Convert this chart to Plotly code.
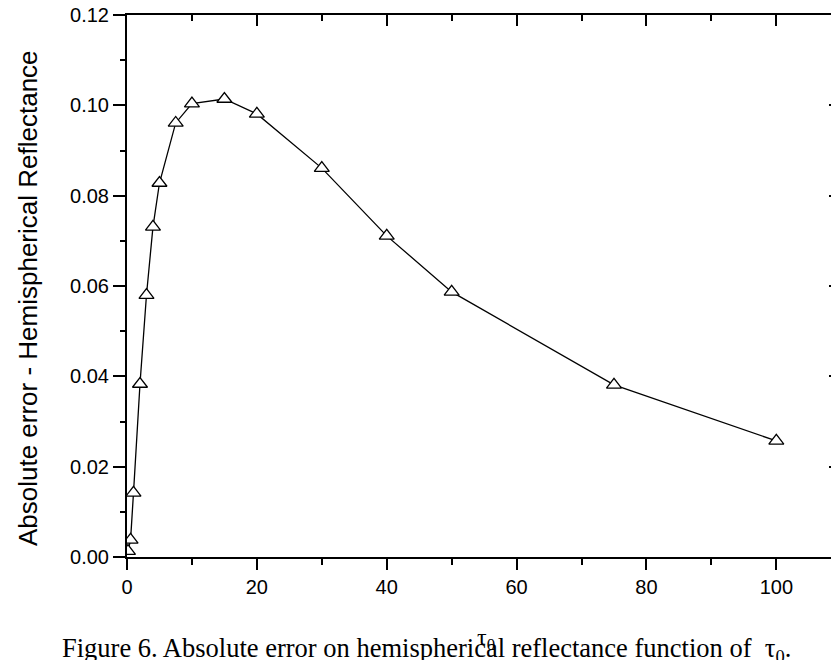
import plotly.graph_objects as go

tau0 = [0.15, 0.55, 1, 2, 3, 4, 5, 7.5, 10, 15, 20, 30, 40, 50, 75, 100]
abs_error = [0.0013, 0.0038, 0.0142, 0.0383, 0.0580, 0.0731, 0.0828, 0.0961,
             0.1004, 0.1014, 0.0981, 0.0861, 0.0711, 0.0587, 0.0381, 0.0257]

x_range = [0, 109.5]
y_range = [0, 0.12]
x_ticks = [0, 20, 40, 60, 80, 100]
y_ticks = [0.00, 0.02, 0.04, 0.06, 0.08, 0.10, 0.12]

fig = go.Figure()
fig.add_trace(go.Scatter(
    x=tau0, y=abs_error, mode="lines+markers",
    line=dict(color="black", width=1.3),
    marker=dict(symbol="triangle-up", size=13, color="white",
                line=dict(color="black", width=1.3)),
    showlegend=False, cliponaxis=True,
))
# invisible trace on mirrored axes
fig.add_trace(go.Scatter(x=tau0, y=abs_error, xaxis="x2", yaxis="y2",
                         mode="markers", marker=dict(opacity=0),
                         showlegend=False, hoverinfo="skip"))

tickfont = dict(family="Liberation Sans, Arial, sans-serif", size=20, color="black")

fig.update_layout(
    width=831, height=652,
    margin=dict(l=119, r=1, t=7, b=103, autoexpand=False),
    paper_bgcolor="white", plot_bgcolor="white",
    xaxis=dict(range=x_range, tickvals=x_ticks, ticktext=[str(v) for v in x_ticks],
               showgrid=False, zeroline=False, showline=True, linecolor="black",
               linewidth=2, ticks="outside", ticklen=11, tickwidth=2,
               tickcolor="black", tickfont=tickfont, ticklabelstandoff=0,
               ticklabeloverflow="allow",
               minor=dict(dtick=10, tick0=0, ticks="outside", ticklen=6,
                          tickwidth=2, tickcolor="black", showgrid=False)),
    yaxis=dict(range=y_range, tickvals=y_ticks, ticktext=[f"{v:.2f}" for v in y_ticks],
               showgrid=False, zeroline=False, showline=True, linecolor="black",
               linewidth=2, ticks="outside", ticklen=12, tickwidth=2,
               tickcolor="black", tickfont=tickfont, ticklabelstandoff=0,
               ticklabeloverflow="allow",
               minor=dict(dtick=0.01, tick0=0, ticks="outside", ticklen=5,
                          tickwidth=2, tickcolor="black", showgrid=False)),
    xaxis2=dict(range=x_range, overlaying="x", side="top", tickvals=x_ticks,
                showticklabels=False, showgrid=False, zeroline=False,
                showline=True, linecolor="black", linewidth=2,
                ticks="inside", ticklen=11, tickwidth=2, tickcolor="black",
                minor=dict(dtick=10, tick0=0, ticks="inside", ticklen=6,
                           tickwidth=2, tickcolor="black", showgrid=False)),
    yaxis2=dict(range=y_range, overlaying="y", side="right", tickvals=y_ticks,
                showticklabels=False, showgrid=False, zeroline=False,
                showline=True, linecolor="black", linewidth=2,
                ticks="inside", ticklen=9, tickwidth=2, tickcolor="black",
                minor=dict(dtick=0.01, tick0=0, ticks="inside", ticklen=4,
                           tickwidth=2, tickcolor="black", showgrid=False)),
    annotations=[
        dict(text="Absolute error - Hemispherical Reflectance", textangle=-90,
             xref="paper", yref="paper", x=-0.139, y=0.478,
             xanchor="center", yanchor="middle", showarrow=False,
             font=dict(family="Liberation Sans, Arial, sans-serif", size=26, color="black")),
        dict(text="τ<sub>0</sub>", xref="paper", yref="paper", x=0.505, y=-0.152,
             xanchor="center", yanchor="middle", showarrow=False,
             font=dict(family="Liberation Serif, Times New Roman, serif", size=24, color="black")),
        dict(text="Figure 6. Absolute error on hemispherical reflectance function of  τ<sub>0</sub>.",
             xref="paper", yref="paper", x=-0.0941, y=-0.172,
             xanchor="left", yanchor="middle", showarrow=False,
             font=dict(family="Liberation Serif, Times New Roman, serif", size=26.5, color="black")),
    ],
)

fig.write_html("out.html")
